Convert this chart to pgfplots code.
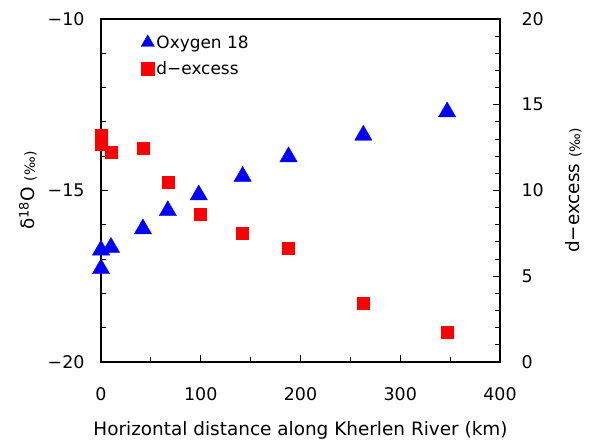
\documentclass[border=0pt]{standalone}
\usepackage{fontspec}
\setmainfont{DejaVu Sans}
\usepackage{pgfplots}
\pgfplotsset{compat=1.18}
\definecolor{tri}{RGB}{0,0,255}
\definecolor{sq}{RGB}{255,0,0}
\begin{document}
\begin{tikzpicture}
\useasboundingbox (-101bp,-79bp) rectangle (496bp,362bp);
\pgfplotsset{
  every axis/.append style={
    scale only axis, width=399bp, height=343bp,
    xmin=0, xmax=400,
    tick align=inside,
    major tick length=7bp, minor tick length=5bp,
    every tick/.style={black, line width=1bp},
    axis line style={line width=1.3bp},
    ticklabel style={font=\fontsize{17.5}{20}\selectfont},
    /pgf/number format/assume math mode=true,
    label style={font=\fontsize{18.5}{21}\selectfont},
  }
}
% oxygen 18, left axis
\begin{axis}[
  ymin=-20, ymax=-10,
  xtick={0,100,...,400}, minor xtick={50,150,250,350},
  xtick pos=bottom, ytick pos=left,
  ytick={-20,-15,-10}, yticklabels={−20,−15,−10},
  minor ytick={-19,-18,-17,-16,-14,-13,-12,-11},
  xticklabel style={yshift=-22bp},
  yticklabel style={xshift=-13bp},
  xlabel={Horizontal distance along Kherlen River (km)},
  xlabel style={at={(axis description cs:0.5,-0.198)}, anchor=center},
  ylabel={δ\textsuperscript{18}O {\fontsize{14}{16}\selectfont(‰)}},
  ylabel style={at={(axis description cs:-0.183,0.5)}, anchor=center},
]
\addplot[only marks, mark=triangle*, mark size=10bp, color=tri] coordinates {
(0,-16.74) (0,-17.28) (10,-16.66) (42,-16.12) (67,-15.59)
(98,-15.13) (142,-14.59) (188,-14.02) (263,-13.39) (347,-12.71)
};
\end{axis}
% d-excess, right axis
\begin{axis}[
  ymin=0, ymax=20,
  hide x axis,
  axis y line*=right,
  ytick={0,5,...,20},
  minor ytick={1,2,3,4,6,7,8,9,11,12,13,14,16,17,18,19},
  yticklabel style={xshift=18bp},
  ylabel={d−excess {\fontsize{14}{16}\selectfont(‰)}},
  ylabel style={at={(axis description cs:1.185,0.5)}, anchor=center},
  legend style={at={(axis description cs:0.1,0.958)}, anchor=north west,
    draw=none, fill=none, row sep=8bp, inner sep=0pt,
    nodes={font=\fontsize{17}{20}\selectfont}},
  legend cell align=left,
]
\addlegendimage{only marks, mark=triangle*, mark size=7.7bp, color=tri}
\addlegendentry{Oxygen 18}
\addlegendimage{only marks, mark=square*, mark size=6.3bp, color=sq}
\addlegendentry{d−excess}
\addplot[only marks, mark=square*, mark size=6bp, color=sq] coordinates {
(0,13.2) (0,12.7) (10,12.23) (42,12.49) (67,10.51)
(99,8.62) (142,7.53) (188,6.62) (263,3.43) (347,1.76)
};
\end{axis}
\end{tikzpicture}
\end{document}
